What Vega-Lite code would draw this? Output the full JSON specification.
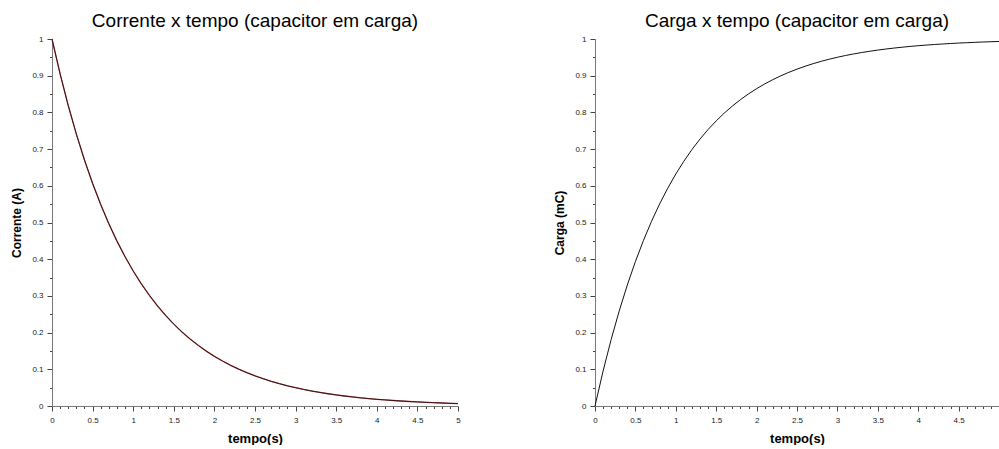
{
  "$schema": "https://vega.github.io/schema/vega-lite/v6.json",
  "padding": {"left": 10, "top": 12, "right": 0, "bottom": 0},
  "background": "white",
  "spacing": 137,
  "bounds": "flush",
  "data": {"values": [
    {"t": 0, "i": 1, "q": 0},
    {"t": 0.1, "i": 0.9048, "q": 0.0952},
    {"t": 0.2, "i": 0.8187, "q": 0.1813},
    {"t": 0.3, "i": 0.7408, "q": 0.2592},
    {"t": 0.4, "i": 0.6703, "q": 0.3297},
    {"t": 0.5, "i": 0.6065, "q": 0.3935},
    {"t": 0.6, "i": 0.5488, "q": 0.4512},
    {"t": 0.7, "i": 0.4966, "q": 0.5034},
    {"t": 0.8, "i": 0.4493, "q": 0.5507},
    {"t": 0.9, "i": 0.4066, "q": 0.5934},
    {"t": 1.0, "i": 0.3679, "q": 0.6321},
    {"t": 1.1, "i": 0.3329, "q": 0.6671},
    {"t": 1.2, "i": 0.3012, "q": 0.6988},
    {"t": 1.3, "i": 0.2725, "q": 0.7275},
    {"t": 1.4, "i": 0.2466, "q": 0.7534},
    {"t": 1.5, "i": 0.2231, "q": 0.7769},
    {"t": 1.6, "i": 0.2019, "q": 0.7981},
    {"t": 1.7, "i": 0.1827, "q": 0.8173},
    {"t": 1.8, "i": 0.1653, "q": 0.8347},
    {"t": 1.9, "i": 0.1496, "q": 0.8504},
    {"t": 2.0, "i": 0.1353, "q": 0.8647},
    {"t": 2.1, "i": 0.1225, "q": 0.8775},
    {"t": 2.2, "i": 0.1108, "q": 0.8892},
    {"t": 2.3, "i": 0.1003, "q": 0.8997},
    {"t": 2.4, "i": 0.0907, "q": 0.9093},
    {"t": 2.5, "i": 0.0821, "q": 0.9179},
    {"t": 2.6, "i": 0.0743, "q": 0.9257},
    {"t": 2.7, "i": 0.0672, "q": 0.9328},
    {"t": 2.8, "i": 0.0608, "q": 0.9392},
    {"t": 2.9, "i": 0.055, "q": 0.945},
    {"t": 3.0, "i": 0.0498, "q": 0.9502},
    {"t": 3.1, "i": 0.045, "q": 0.955},
    {"t": 3.2, "i": 0.0408, "q": 0.9592},
    {"t": 3.3, "i": 0.0369, "q": 0.9631},
    {"t": 3.4, "i": 0.0334, "q": 0.9666},
    {"t": 3.5, "i": 0.0302, "q": 0.9698},
    {"t": 3.6, "i": 0.0273, "q": 0.9727},
    {"t": 3.7, "i": 0.0247, "q": 0.9753},
    {"t": 3.8, "i": 0.0224, "q": 0.9776},
    {"t": 3.9, "i": 0.0202, "q": 0.9798},
    {"t": 4.0, "i": 0.0183, "q": 0.9817},
    {"t": 4.1, "i": 0.0166, "q": 0.9834},
    {"t": 4.2, "i": 0.015, "q": 0.985},
    {"t": 4.3, "i": 0.0136, "q": 0.9864},
    {"t": 4.4, "i": 0.0123, "q": 0.9877},
    {"t": 4.5, "i": 0.0111, "q": 0.9889},
    {"t": 4.6, "i": 0.0101, "q": 0.9899},
    {"t": 4.7, "i": 0.0091, "q": 0.9909},
    {"t": 4.8, "i": 0.0082, "q": 0.9918},
    {"t": 4.9, "i": 0.0074, "q": 0.9926},
    {"t": 5.0, "i": 0.0067, "q": 0.9933}
  ]},
  "config": {
    "view": {"stroke": null},
    "font": "Liberation Sans",
    "title": {"fontSize": 19, "fontWeight": "normal", "color": "#000000", "offset": 4, "anchor": "middle", "font": "Liberation Sans"},
    "axis": {
      "grid": false,
      "labelFont": "Liberation Sans",
      "labelFontSize": 8,
      "labelColor": "#222222",
      "domainColor": "#777777",
      "tickColor": "#444444",
      "titleFont": "Liberation Sans",
      "titleFontWeight": "bold",
      "titleColor": "#000000",
      "labelFlush": false,
      "labelOverlap": false,
      "labelBound": false
    }
  },
  "hconcat": [
    {
      "width": 406,
      "height": 367,
      "title": "Corrente x tempo (capacitor em carga)",
      "encoding": {
        "x": {
          "field": "t", "type": "quantitative",
          "scale": {"domain": [0, 5], "nice": false},
          "axis": {
            "title": "tempo(s)", "titleFontSize": 13, "titlePadding": 8, "labelPadding": 5,
            "values": [0,0.1,0.2,0.3,0.4,0.5,0.6,0.7,0.8,0.9,1,1.1,1.2,1.3,1.4,1.5,1.6,1.7,1.8,1.9,2,2.1,2.2,2.3,2.4,2.5,2.6,2.7,2.8,2.9,3,3.1,3.2,3.3,3.4,3.5,3.6,3.7,3.8,3.9,4,4.1,4.2,4.3,4.4,4.5,4.6,4.7,4.8,4.9,5],
            "labelExpr": "abs(datum.value*2-round(datum.value*2))<0.001 ? format(datum.value,'~g') : ''",
            "tickSize": {"condition": {"test": "abs(datum.value*2-round(datum.value*2))<0.001", "value": 5}, "value": 2.5}
          }
        },
        "y": {
          "field": "i", "type": "quantitative",
          "scale": {"domain": [0, 1], "nice": false},
          "axis": {
            "title": "Corrente (A)", "titleFontSize": 12, "titlePadding": 8, "labelPadding": 4,
            "values": [0,0.05,0.1,0.15,0.2,0.25,0.3,0.35,0.4,0.45,0.5,0.55,0.6,0.65,0.7,0.75,0.8,0.85,0.9,0.95,1],
            "labelExpr": "abs(datum.value*10-round(datum.value*10))<0.001 ? format(datum.value,'~g') : ''",
            "tickSize": {"condition": {"test": "abs(datum.value*10-round(datum.value*10))<0.001", "value": 5}, "value": 2.5}
          }
        }
      },
      "layer": [
        {"mark": {"type": "line", "color": "#b04040", "strokeWidth": 1.3}},
        {"mark": {"type": "line", "color": "#1a0808", "strokeWidth": 0.8}}
      ]
    },
    {
      "width": 404,
      "height": 367,
      "title": "Carga x tempo  (capacitor em carga)",
      "encoding": {
        "x": {
          "field": "t", "type": "quantitative",
          "scale": {"domain": [0, 5], "nice": false},
          "axis": {
            "title": "tempo(s)", "titleFontSize": 13, "titlePadding": 8, "labelPadding": 5,
            "values": [0,0.1,0.2,0.3,0.4,0.5,0.6,0.7,0.8,0.9,1,1.1,1.2,1.3,1.4,1.5,1.6,1.7,1.8,1.9,2,2.1,2.2,2.3,2.4,2.5,2.6,2.7,2.8,2.9,3,3.1,3.2,3.3,3.4,3.5,3.6,3.7,3.8,3.9,4,4.1,4.2,4.3,4.4,4.5,4.6,4.7,4.8,4.9,5],
            "labelExpr": "abs(datum.value*2-round(datum.value*2))<0.001 && datum.value < 4.9 ? format(datum.value,'~g') : ''",
            "tickSize": {"condition": {"test": "abs(datum.value*2-round(datum.value*2))<0.001", "value": 5}, "value": 2.5}
          }
        },
        "y": {
          "field": "q", "type": "quantitative",
          "scale": {"domain": [0, 1], "nice": false},
          "axis": {
            "title": "Carga (mC)", "titleFontSize": 12, "titlePadding": 8, "labelPadding": 4,
            "values": [0,0.05,0.1,0.15,0.2,0.25,0.3,0.35,0.4,0.45,0.5,0.55,0.6,0.65,0.7,0.75,0.8,0.85,0.9,0.95,1],
            "labelExpr": "abs(datum.value*10-round(datum.value*10))<0.001 ? format(datum.value,'~g') : ''",
            "tickSize": {"condition": {"test": "abs(datum.value*10-round(datum.value*10))<0.001", "value": 5}, "value": 2.5}
          }
        }
      },
      "layer": [
        {"mark": {"type": "line", "color": "#111111", "strokeWidth": 1}}
      ]
    }
  ]
}
